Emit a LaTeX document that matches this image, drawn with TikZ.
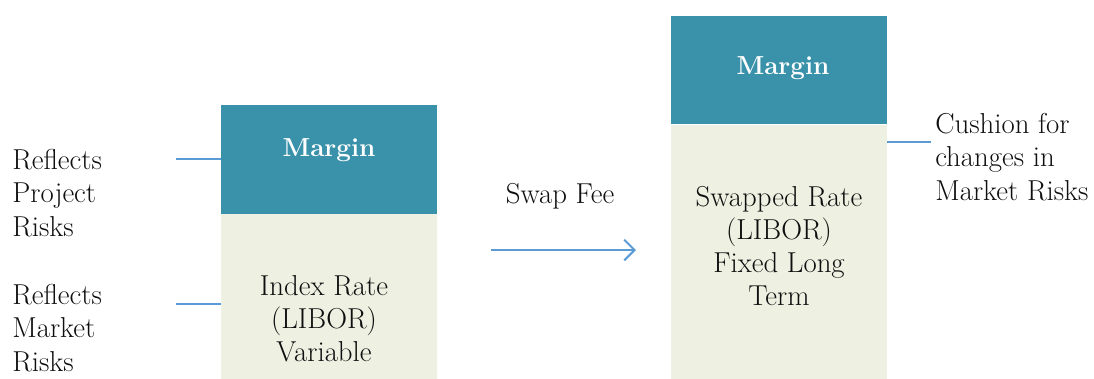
\documentclass[tikz,border=0pt]{standalone}
\usetikzlibrary{positioning,arrows.meta}
\definecolor{mgTeal}{RGB}{58,146,170}
\definecolor{mgCream}{RGB}{238,240,226}
\definecolor{mgLine}{RGB}{91,155,213}
\definecolor{mgText}{RGB}{15,15,15}
\tikzset{
    mgBoxBase/.style={
        rectangle,
        inner sep=0pt,
        minimum width=5.4cm,
        draw=none
    },
    % Box parts
    marginbox/.style={mgBoxBase, fill=mgTeal, minimum height=2.7cm},
    ratebox/.style={mgBoxBase, fill=mgCream},
    % Texts
    mgLabel/.style={
        font=\fontsize{20.5}{23.6}\selectfont,
        text=mgText,
        inner sep=0pt
    },
    marginlabel/.style={mgLabel, font=\fontsize{18.5}{22}\selectfont\bfseries, text=white},
    % Lines
    mgLink/.style={draw=mgLine, line width=1.3pt},
    mgArrow/.style={-{Straight Barb[length=2.6mm, width=5.2mm, line width=1.4pt]}, draw=mgLine, line width=1.6pt}
}

\begin{document}
\begin{tikzpicture}[x=0.025cm, y=-0.025cm]
\useasboundingbox (0,0) rectangle (1094,378);

% left stack
\node[marginbox] (marginL) at (329,159.5) {};
\node[ratebox, below=0pt of marginL, minimum height=4.15cm] (rateL) {};
\node[marginlabel] (marginLtxt) at (329,150) {Margin};
\node[mgLabel, align=center] (rateLtxt) at (324,319) {Index Rate\\(LIBOR)\\Variable};

% right stack
\node[marginbox] (marginR) at (779,70) {};
\node[ratebox, below=0pt of marginR, minimum height=6.4cm] (rateR) {};
\node[marginlabel] (marginRtxt) at (783,68) {Margin};
\node[mgLabel, align=center] (rateRtxt) at (779,246) {Swapped Rate\\(LIBOR)\\Fixed Long\\Term};

% side notes
\node[mgLabel, align=left, anchor=west] (projNote) at (12,193) {Reflects\\Project\\Risks};
\node[mgLabel, align=left, anchor=west] (mktNote) at (12,328) {Reflects\\Market\\Risks};
\node[mgLabel, align=left, anchor=west] (cushNote) at (935,157) {Cushion for\\changes in\\Market Risks};

\coordinate (projEnd) at (176,159);
\coordinate (mktEnd) at (176,304);
\coordinate (cushEnd) at (931,142);
\draw[mgLink] (projEnd) -- (projEnd -| marginL.west);
\draw[mgLink] (mktEnd) -- (mktEnd -| rateL.west);
\draw[mgLink] (cushEnd) -- (cushEnd -| rateR.east);

% swap arrow
\coordinate (swapStart) at (491,250);
\coordinate (swapEnd) at (636,250);
\draw[mgArrow] (swapStart) -- (swapEnd);
\node[mgLabel] (swapFee) at (560,196) {Swap Fee};
\end{tikzpicture}
\end{document}
